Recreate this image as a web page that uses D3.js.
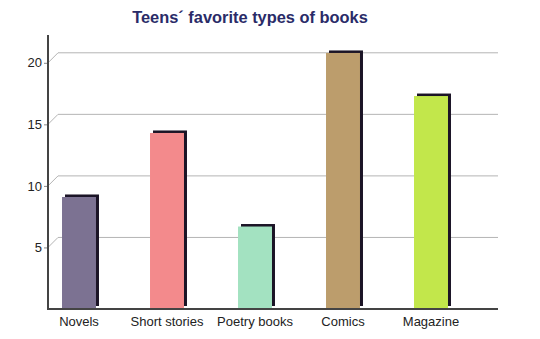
<!DOCTYPE html>
<html>
<head>
<meta charset="utf-8">
<script src="https://cdn.jsdelivr.net/npm/d3@7"></script>
<style>
  html, body { margin: 0; padding: 0; background: #fff; }
  svg { display: block; }
</style>
</head>
<body>
<svg id="chart" width="540" height="339"></svg>
<script>
// Survey results: favourite types of books among teens
const categories = ["Novels", "Short stories", "Poetry books", "Comics", "Magazine"];
const values = [9.1, 14.3, 6.7, 20.8, 17.3];
const barColors = ["#7c7292", "#f38a8c", "#a3e2c1", "#bc9d6c", "#c2e74b"];
const yTicks = [5, 10, 15, 20];
const titleText = "Teens´ favorite types of books";

const svg = d3.select("#chart");
const plotLeft = 48, plotRight = 498, plotTop = 35, plotBottom = 309;
const depth = 10;      // back-wall offset of the gridlines
const shade = { dx: 3, dy: 2.5 };  // dark edge behind each bar

const x = d3.scaleBand()
  .domain(categories)
  .range([35, 475])
  .paddingInner(0.614)
  .paddingOuter(0.307);

const y = d3.scaleLinear()
  .domain([0, 20])
  .range([plotBottom, 62.8]);

// title
svg.append("text")
  .attr("x", 250)
  .attr("y", 23)
  .attr("text-anchor", "middle")
  .attr("font-family", "Liberation Sans, Arial, sans-serif")
  .attr("font-weight", "bold")
  .attr("font-size", 16.4)
  .attr("fill", "#2a2b68")
  .text(titleText);

// gridlines with a short diagonal to the back wall
const grid = svg.append("g").attr("fill", "none").attr("stroke", "#b4b4b4").attr("stroke-width", 1);
yTicks.forEach(t => {
  const yy = y(t);
  grid.append("path")
    .attr("d", `M${plotLeft},${yy} L${plotLeft + depth},${yy - depth} L${plotRight},${yy - depth}`);
});

// bars: dark back edge, then coloured front face
const bars = svg.append("g");
categories.forEach((c, i) => {
  const bx = x(c), bw = x.bandwidth(), by = y(values[i]);
  bars.append("rect")
    .attr("x", bx + shade.dx)
    .attr("y", by - shade.dy)
    .attr("width", bw)
    .attr("height", (plotBottom - 3) - (by - shade.dy))
    .attr("fill", "#1b1426");
  bars.append("rect")
    .attr("x", bx)
    .attr("y", by)
    .attr("width", bw)
    .attr("height", plotBottom - by)
    .attr("fill", barColors[i]);
});

// y axis
const yAxis = d3.axisLeft(y).tickValues(yTicks).tickSize(4).tickPadding(2);
const gy = svg.append("g").attr("transform", `translate(${plotLeft},0)`).call(yAxis);
gy.select(".domain").remove();
gy.selectAll(".tick line").attr("stroke", "#888");
gy.selectAll(".tick text")
  .attr("font-family", "Liberation Sans, Arial, sans-serif")
  .attr("font-size", 13)
  .attr("fill", "#222");
svg.append("line")
  .attr("x1", plotLeft).attr("x2", plotLeft)
  .attr("y1", plotTop).attr("y2", plotBottom + 1)
  .attr("stroke", "#444").attr("stroke-width", 2);

// x axis
const xAxis = d3.axisBottom(x).tickSize(0).tickPadding(8);
const gx = svg.append("g").attr("transform", `translate(0,${plotBottom})`).call(xAxis);
gx.select(".domain").remove();
gx.selectAll(".tick text")
  .attr("font-family", "Liberation Sans, Arial, sans-serif")
  .attr("font-size", 13)
  .attr("fill", "#222");
svg.append("line")
  .attr("x1", plotLeft - 1).attr("x2", plotRight)
  .attr("y1", plotBottom).attr("y2", plotBottom)
  .attr("stroke", "#444").attr("stroke-width", 2);
</script>
</body>
</html>
